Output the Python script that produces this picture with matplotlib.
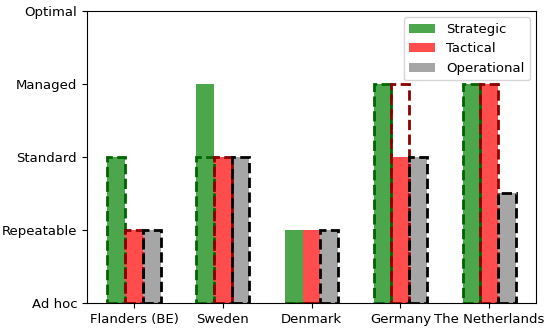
import matplotlib
matplotlib.use("Agg")
import matplotlib.pyplot as plt
import numpy as np

countries = ['Flanders (BE)', 'Sweden', 'Denmark', 'Germany', 'The Netherlands']
levels = ['Ad hoc', 'Repeatable', 'Standard', 'Managed', 'Optimal']

# current maturity (filled bars)
strategic = [2, 3, 1, 3, 3]
tactical = [1, 2, 1, 2, 3]
operational = [1, 2, 1, 2, 1.5]

# target maturity (dashed outlines)
strategic_target = [2, 2, 0, 3, 3]
tactical_target = [1, 2, 0, 3, 3]
operational_target = [1, 2, 1, 2, 1.5]

plt.rcParams['font.size'] = 9.5

x = np.arange(len(countries))
w = 0.2

fig, ax = plt.subplots(figsize=(5.5, 3.3), dpi=100)
fig.subplots_adjust(left=0.158, right=0.975, bottom=0.082, top=0.967)

ax.bar(x - w, strategic, w, color='green', alpha=0.7, label='Strategic')
ax.bar(x, tactical, w, color='red', alpha=0.7, label='Tactical')
ax.bar(x + w, operational, w, color='gray', alpha=0.7, label='Operational')

# targets as dashed outlines
ax.bar(x - w, strategic_target, w, fill=False, edgecolor='darkgreen', linestyle='--', linewidth=2)
ax.bar(x, tactical_target, w, fill=False, edgecolor='darkred', linestyle='--', linewidth=2)
ax.bar(x + w, operational_target, w, fill=False, edgecolor='black', linestyle='--', linewidth=2)

ax.set_xticks(x)
ax.set_xticklabels(countries)
ax.set_yticks(range(len(levels)))
ax.set_yticklabels(levels)
ax.set_ylim(0, 4)
ax.legend(loc='upper right')

plt.savefig('out.png')
